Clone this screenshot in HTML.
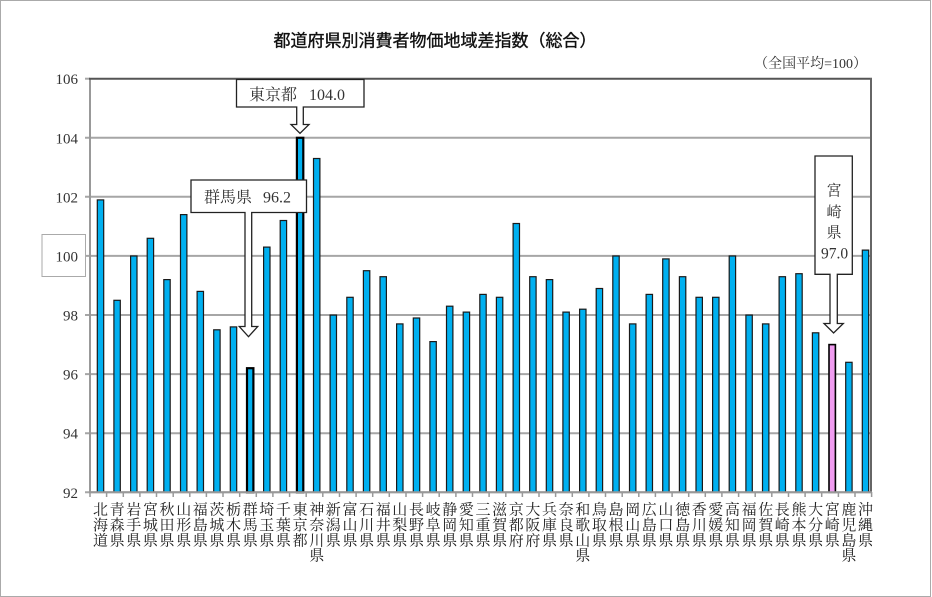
<!DOCTYPE html>
<html><head><meta charset="utf-8"><style>
html,body{margin:0;padding:0;background:#fff;}
svg{display:block;}
.lab{font-family:"Liberation Serif","Noto Serif CJK SC","Noto Serif CJK JP",serif;font-size:15px;fill:#222;text-anchor:middle;}
.yl{font-family:"Liberation Serif","Noto Serif CJK SC",serif;font-size:15px;fill:#333;text-anchor:end;}
.co{font-family:"Liberation Serif","Noto Serif CJK SC","Noto Serif CJK JP",serif;font-size:16px;fill:#333;}
.bar{fill:#00b0f0;stroke:#1a1a1a;stroke-width:1.2;}
</style></head><body>
<svg width="932" height="597" viewBox="0 0 932 597" xmlns="http://www.w3.org/2000/svg">
<rect x="0.5" y="0.5" width="930" height="596" fill="#fff" stroke="#aaa" stroke-width="1"/>
<text x="435" y="46.5" text-anchor="middle" stroke="#111" stroke-width="0.35" style="font-family:'Liberation Sans','Noto Sans CJK JP',sans-serif;font-size:17px;fill:#111;">都道府県別消費者物価地域差指数（総合）</text>
<text x="867" y="68" text-anchor="end" style="font-family:'Liberation Serif','Noto Serif CJK SC',serif;font-size:14px;fill:#333;">（全国平均=100）</text>

<!-- gridlines -->
<g stroke="#a6a6a6" stroke-width="2">
<line x1="85" y1="137.8" x2="871" y2="137.8"/>
<line x1="85" y1="196.8" x2="871" y2="196.8"/>
<line x1="85" y1="255.9" x2="871" y2="255.9"/>
<line x1="85" y1="315.0" x2="871" y2="315.0"/>
<line x1="85" y1="374.1" x2="871" y2="374.1"/>
<line x1="85" y1="433.2" x2="871" y2="433.2"/>
<line x1="85" y1="492.3" x2="871" y2="492.3"/>
<line x1="85" y1="78.7" x2="90" y2="78.7"/>
</g>
<!-- y labels -->
<text class="yl" x="78" y="84.2">106</text>
<text class="yl" x="78" y="143.3">104</text>
<text class="yl" x="78" y="202.3">102</text>
<text class="yl" x="78" y="261.4">100</text>
<text class="yl" x="78" y="320.5">98</text>
<text class="yl" x="78" y="379.6">96</text>
<text class="yl" x="78" y="438.7">94</text>
<text class="yl" x="78" y="497.8">92</text>
<rect x="42" y="234.5" width="43.5" height="42" fill="none" stroke="#aaa" stroke-width="1"/>

<!-- bars -->
<g>
<rect class="bar" x="97.3" y="199.9" width="6.4" height="292.4"/>
<rect class="bar" x="113.9" y="300.3" width="6.4" height="192.0"/>
<rect class="bar" x="130.6" y="256.0" width="6.4" height="236.3"/>
<rect class="bar" x="147.2" y="238.3" width="6.4" height="254.0"/>
<rect class="bar" x="163.8" y="279.6" width="6.4" height="212.7"/>
<rect class="bar" x="180.5" y="214.6" width="6.4" height="277.7"/>
<rect class="bar" x="197.1" y="291.4" width="6.4" height="200.9"/>
<rect class="bar" x="213.7" y="329.8" width="6.4" height="162.5"/>
<rect class="bar" x="230.3" y="326.9" width="6.4" height="165.4"/>
<rect class="bar" x="247.0" y="368.2" width="6.4" height="124.1" style="stroke:#000;stroke-width:2.2"/>
<rect class="bar" x="263.6" y="247.1" width="6.4" height="245.2"/>
<rect class="bar" x="280.2" y="220.5" width="6.4" height="271.8"/>
<rect class="bar" x="296.9" y="137.8" width="6.4" height="354.5" style="stroke:#000;stroke-width:2.2"/>
<rect class="bar" x="313.5" y="158.5" width="6.4" height="333.8"/>
<rect class="bar" x="330.1" y="315.1" width="6.4" height="177.2"/>
<rect class="bar" x="346.8" y="297.3" width="6.4" height="195.0"/>
<rect class="bar" x="363.4" y="270.7" width="6.4" height="221.6"/>
<rect class="bar" x="380.0" y="276.7" width="6.4" height="215.6"/>
<rect class="bar" x="396.6" y="323.9" width="6.4" height="168.4"/>
<rect class="bar" x="413.3" y="318.0" width="6.4" height="174.3"/>
<rect class="bar" x="429.9" y="341.6" width="6.4" height="150.7"/>
<rect class="bar" x="446.5" y="306.2" width="6.4" height="186.1"/>
<rect class="bar" x="463.2" y="312.1" width="6.4" height="180.2"/>
<rect class="bar" x="479.8" y="294.4" width="6.4" height="197.9"/>
<rect class="bar" x="496.4" y="297.3" width="6.4" height="195.0"/>
<rect class="bar" x="513.1" y="223.5" width="6.4" height="268.8"/>
<rect class="bar" x="529.7" y="276.7" width="6.4" height="215.6"/>
<rect class="bar" x="546.3" y="279.6" width="6.4" height="212.7"/>
<rect class="bar" x="562.9" y="312.1" width="6.4" height="180.2"/>
<rect class="bar" x="579.6" y="309.2" width="6.4" height="183.1"/>
<rect class="bar" x="596.2" y="288.5" width="6.4" height="203.8"/>
<rect class="bar" x="612.8" y="256.0" width="6.4" height="236.3"/>
<rect class="bar" x="629.5" y="323.9" width="6.4" height="168.4"/>
<rect class="bar" x="646.1" y="294.4" width="6.4" height="197.9"/>
<rect class="bar" x="662.7" y="258.9" width="6.4" height="233.4"/>
<rect class="bar" x="679.4" y="276.7" width="6.4" height="215.6"/>
<rect class="bar" x="696.0" y="297.3" width="6.4" height="195.0"/>
<rect class="bar" x="712.6" y="297.3" width="6.4" height="195.0"/>
<rect class="bar" x="729.2" y="256.0" width="6.4" height="236.3"/>
<rect class="bar" x="745.9" y="315.1" width="6.4" height="177.2"/>
<rect class="bar" x="762.5" y="323.9" width="6.4" height="168.4"/>
<rect class="bar" x="779.1" y="276.7" width="6.4" height="215.6"/>
<rect class="bar" x="795.8" y="273.7" width="6.4" height="218.6"/>
<rect class="bar" x="812.4" y="332.8" width="6.4" height="159.5"/>
<rect class="bar" x="829.0" y="344.6" width="6.4" height="147.7" style="fill:#f09cf0;stroke:#000;stroke-width:1.6"/>
<rect class="bar" x="845.7" y="362.3" width="6.4" height="130.0"/>
<rect class="bar" x="862.3" y="250.1" width="6.4" height="242.2"/>
</g>

<!-- axes / frame -->
<line x1="90" y1="78.7" x2="90" y2="493" stroke="#999" stroke-width="2"/>
<line x1="89" y1="78.7" x2="872" y2="78.7" stroke="#555" stroke-width="2"/>
<line x1="871" y1="78" x2="871" y2="493" stroke="#666" stroke-width="2"/>
<line x1="89" y1="492.3" x2="872" y2="492.3" stroke="#999" stroke-width="2"/>
<g stroke="#999" stroke-width="1.5">
<line x1="90" y1="492" x2="90" y2="497"/><line x1="106.6" y1="492" x2="106.6" y2="497"/><line x1="123.3" y1="492" x2="123.3" y2="497"/><line x1="139.9" y1="492" x2="139.9" y2="497"/><line x1="156.5" y1="492" x2="156.5" y2="497"/><line x1="173.2" y1="492" x2="173.2" y2="497"/><line x1="189.8" y1="492" x2="189.8" y2="497"/><line x1="206.4" y1="492" x2="206.4" y2="497"/><line x1="223.0" y1="492" x2="223.0" y2="497"/><line x1="239.7" y1="492" x2="239.7" y2="497"/><line x1="256.3" y1="492" x2="256.3" y2="497"/><line x1="272.9" y1="492" x2="272.9" y2="497"/><line x1="289.6" y1="492" x2="289.6" y2="497"/><line x1="306.2" y1="492" x2="306.2" y2="497"/><line x1="322.8" y1="492" x2="322.8" y2="497"/><line x1="339.5" y1="492" x2="339.5" y2="497"/><line x1="356.1" y1="492" x2="356.1" y2="497"/><line x1="372.7" y1="492" x2="372.7" y2="497"/><line x1="389.3" y1="492" x2="389.3" y2="497"/><line x1="406.0" y1="492" x2="406.0" y2="497"/><line x1="422.6" y1="492" x2="422.6" y2="497"/><line x1="439.2" y1="492" x2="439.2" y2="497"/><line x1="455.9" y1="492" x2="455.9" y2="497"/><line x1="472.5" y1="492" x2="472.5" y2="497"/><line x1="489.1" y1="492" x2="489.1" y2="497"/><line x1="505.8" y1="492" x2="505.8" y2="497"/><line x1="522.4" y1="492" x2="522.4" y2="497"/><line x1="539.0" y1="492" x2="539.0" y2="497"/><line x1="555.6" y1="492" x2="555.6" y2="497"/><line x1="572.3" y1="492" x2="572.3" y2="497"/><line x1="588.9" y1="492" x2="588.9" y2="497"/><line x1="605.5" y1="492" x2="605.5" y2="497"/><line x1="622.2" y1="492" x2="622.2" y2="497"/><line x1="638.8" y1="492" x2="638.8" y2="497"/><line x1="655.4" y1="492" x2="655.4" y2="497"/><line x1="672.1" y1="492" x2="672.1" y2="497"/><line x1="688.7" y1="492" x2="688.7" y2="497"/><line x1="705.3" y1="492" x2="705.3" y2="497"/><line x1="721.9" y1="492" x2="721.9" y2="497"/><line x1="738.6" y1="492" x2="738.6" y2="497"/><line x1="755.2" y1="492" x2="755.2" y2="497"/><line x1="771.8" y1="492" x2="771.8" y2="497"/><line x1="788.5" y1="492" x2="788.5" y2="497"/><line x1="805.1" y1="492" x2="805.1" y2="497"/><line x1="821.7" y1="492" x2="821.7" y2="497"/><line x1="838.4" y1="492" x2="838.4" y2="497"/><line x1="855.0" y1="492" x2="855.0" y2="497"/><line x1="871.6" y1="492" x2="871.6" y2="497"/>
</g>

<!-- category labels -->
<g class="lab">
<text class="lab" x="100.5" y="514.5">北<tspan x="100.5" dy="15.4">海</tspan><tspan x="100.5" dy="15.4">道</tspan></text>
<text class="lab" x="117.1" y="514.5">青<tspan x="117.1" dy="15.4">森</tspan><tspan x="117.1" dy="15.4">県</tspan></text>
<text class="lab" x="133.8" y="514.5">岩<tspan x="133.8" dy="15.4">手</tspan><tspan x="133.8" dy="15.4">県</tspan></text>
<text class="lab" x="150.4" y="514.5">宮<tspan x="150.4" dy="15.4">城</tspan><tspan x="150.4" dy="15.4">県</tspan></text>
<text class="lab" x="167.0" y="514.5">秋<tspan x="167.0" dy="15.4">田</tspan><tspan x="167.0" dy="15.4">県</tspan></text>
<text class="lab" x="183.7" y="514.5">山<tspan x="183.7" dy="15.4">形</tspan><tspan x="183.7" dy="15.4">県</tspan></text>
<text class="lab" x="200.3" y="514.5">福<tspan x="200.3" dy="15.4">島</tspan><tspan x="200.3" dy="15.4">県</tspan></text>
<text class="lab" x="216.9" y="514.5">茨<tspan x="216.9" dy="15.4">城</tspan><tspan x="216.9" dy="15.4">県</tspan></text>
<text class="lab" x="233.5" y="514.5">栃<tspan x="233.5" dy="15.4">木</tspan><tspan x="233.5" dy="15.4">県</tspan></text>
<text class="lab" x="250.2" y="514.5">群<tspan x="250.2" dy="15.4">馬</tspan><tspan x="250.2" dy="15.4">県</tspan></text>
<text class="lab" x="266.8" y="514.5">埼<tspan x="266.8" dy="15.4">玉</tspan><tspan x="266.8" dy="15.4">県</tspan></text>
<text class="lab" x="283.4" y="514.5">千<tspan x="283.4" dy="15.4">葉</tspan><tspan x="283.4" dy="15.4">県</tspan></text>
<text class="lab" x="300.1" y="514.5">東<tspan x="300.1" dy="15.4">京</tspan><tspan x="300.1" dy="15.4">都</tspan></text>
<text class="lab" x="316.7" y="514.5">神<tspan x="316.7" dy="15.4">奈</tspan><tspan x="316.7" dy="15.4">川</tspan><tspan x="316.7" dy="15.4">県</tspan></text>
<text class="lab" x="333.3" y="514.5">新<tspan x="333.3" dy="15.4">潟</tspan><tspan x="333.3" dy="15.4">県</tspan></text>
<text class="lab" x="350.0" y="514.5">富<tspan x="350.0" dy="15.4">山</tspan><tspan x="350.0" dy="15.4">県</tspan></text>
<text class="lab" x="366.6" y="514.5">石<tspan x="366.6" dy="15.4">川</tspan><tspan x="366.6" dy="15.4">県</tspan></text>
<text class="lab" x="383.2" y="514.5">福<tspan x="383.2" dy="15.4">井</tspan><tspan x="383.2" dy="15.4">県</tspan></text>
<text class="lab" x="399.8" y="514.5">山<tspan x="399.8" dy="15.4">梨</tspan><tspan x="399.8" dy="15.4">県</tspan></text>
<text class="lab" x="416.5" y="514.5">長<tspan x="416.5" dy="15.4">野</tspan><tspan x="416.5" dy="15.4">県</tspan></text>
<text class="lab" x="433.1" y="514.5">岐<tspan x="433.1" dy="15.4">阜</tspan><tspan x="433.1" dy="15.4">県</tspan></text>
<text class="lab" x="449.7" y="514.5">静<tspan x="449.7" dy="15.4">岡</tspan><tspan x="449.7" dy="15.4">県</tspan></text>
<text class="lab" x="466.4" y="514.5">愛<tspan x="466.4" dy="15.4">知</tspan><tspan x="466.4" dy="15.4">県</tspan></text>
<text class="lab" x="483.0" y="514.5">三<tspan x="483.0" dy="15.4">重</tspan><tspan x="483.0" dy="15.4">県</tspan></text>
<text class="lab" x="499.6" y="514.5">滋<tspan x="499.6" dy="15.4">賀</tspan><tspan x="499.6" dy="15.4">県</tspan></text>
<text class="lab" x="516.3" y="514.5">京<tspan x="516.3" dy="15.4">都</tspan><tspan x="516.3" dy="15.4">府</tspan></text>
<text class="lab" x="532.9" y="514.5">大<tspan x="532.9" dy="15.4">阪</tspan><tspan x="532.9" dy="15.4">府</tspan></text>
<text class="lab" x="549.5" y="514.5">兵<tspan x="549.5" dy="15.4">庫</tspan><tspan x="549.5" dy="15.4">県</tspan></text>
<text class="lab" x="566.1" y="514.5">奈<tspan x="566.1" dy="15.4">良</tspan><tspan x="566.1" dy="15.4">県</tspan></text>
<text class="lab" x="582.8" y="514.5">和<tspan x="582.8" dy="15.4">歌</tspan><tspan x="582.8" dy="15.4">山</tspan><tspan x="582.8" dy="15.4">県</tspan></text>
<text class="lab" x="599.4" y="514.5">鳥<tspan x="599.4" dy="15.4">取</tspan><tspan x="599.4" dy="15.4">県</tspan></text>
<text class="lab" x="616.0" y="514.5">島<tspan x="616.0" dy="15.4">根</tspan><tspan x="616.0" dy="15.4">県</tspan></text>
<text class="lab" x="632.7" y="514.5">岡<tspan x="632.7" dy="15.4">山</tspan><tspan x="632.7" dy="15.4">県</tspan></text>
<text class="lab" x="649.3" y="514.5">広<tspan x="649.3" dy="15.4">島</tspan><tspan x="649.3" dy="15.4">県</tspan></text>
<text class="lab" x="665.9" y="514.5">山<tspan x="665.9" dy="15.4">口</tspan><tspan x="665.9" dy="15.4">県</tspan></text>
<text class="lab" x="682.6" y="514.5">徳<tspan x="682.6" dy="15.4">島</tspan><tspan x="682.6" dy="15.4">県</tspan></text>
<text class="lab" x="699.2" y="514.5">香<tspan x="699.2" dy="15.4">川</tspan><tspan x="699.2" dy="15.4">県</tspan></text>
<text class="lab" x="715.8" y="514.5">愛<tspan x="715.8" dy="15.4">媛</tspan><tspan x="715.8" dy="15.4">県</tspan></text>
<text class="lab" x="732.4" y="514.5">高<tspan x="732.4" dy="15.4">知</tspan><tspan x="732.4" dy="15.4">県</tspan></text>
<text class="lab" x="749.1" y="514.5">福<tspan x="749.1" dy="15.4">岡</tspan><tspan x="749.1" dy="15.4">県</tspan></text>
<text class="lab" x="765.7" y="514.5">佐<tspan x="765.7" dy="15.4">賀</tspan><tspan x="765.7" dy="15.4">県</tspan></text>
<text class="lab" x="782.3" y="514.5">長<tspan x="782.3" dy="15.4">崎</tspan><tspan x="782.3" dy="15.4">県</tspan></text>
<text class="lab" x="799.0" y="514.5">熊<tspan x="799.0" dy="15.4">本</tspan><tspan x="799.0" dy="15.4">県</tspan></text>
<text class="lab" x="815.6" y="514.5">大<tspan x="815.6" dy="15.4">分</tspan><tspan x="815.6" dy="15.4">県</tspan></text>
<text class="lab" x="832.2" y="514.5">宮<tspan x="832.2" dy="15.4">崎</tspan><tspan x="832.2" dy="15.4">県</tspan></text>
<text class="lab" x="848.9" y="514.5">鹿<tspan x="848.9" dy="15.4">児</tspan><tspan x="848.9" dy="15.4">島</tspan><tspan x="848.9" dy="15.4">県</tspan></text>
<text class="lab" x="865.5" y="514.5">沖<tspan x="865.5" dy="15.4">縄</tspan><tspan x="865.5" dy="15.4">県</tspan></text>
</g>

<!-- callouts -->
<g fill="#fff" stroke="#222" stroke-width="1.3" stroke-linejoin="miter">
<path d="M236.5,79.5 H364 V107 H303.3 V124.5 H309 L300,133.3 L291,124.5 H296.7 V107 H236.5 Z"/>
<path d="M191,180 H306.5 V212.5 H251.7 V326.5 H257.7 L248.5,336.7 L239.3,326.5 H245 V212.5 H191 Z"/>
<path d="M815,156 H852.3 V274.3 H837.3 V323.5 H843.3 L833.6,333 L824,323.5 H830 V274.3 H815 Z"/>
</g>
<text class="co" x="249" y="100" style="font-size:16px">東京都</text>
<text class="co" x="309" y="100" style="font-size:16px">104.0</text>
<text class="co" x="204" y="202.5" style="font-size:16px">群馬県</text>
<text class="co" x="263" y="202.5" style="font-size:16px">96.2</text>
<g class="co" style="font-size:15px;text-anchor:middle">
<text x="834" y="195.5" text-anchor="middle" style="font-size:15px">宮</text>
<text x="834" y="217" text-anchor="middle" style="font-size:15px">崎</text>
<text x="834" y="237.5" text-anchor="middle" style="font-size:15px">県</text>
<text x="834.5" y="258.5" text-anchor="middle" style="font-size:15.5px">97.0</text>
</g>
</svg>
</body></html>
